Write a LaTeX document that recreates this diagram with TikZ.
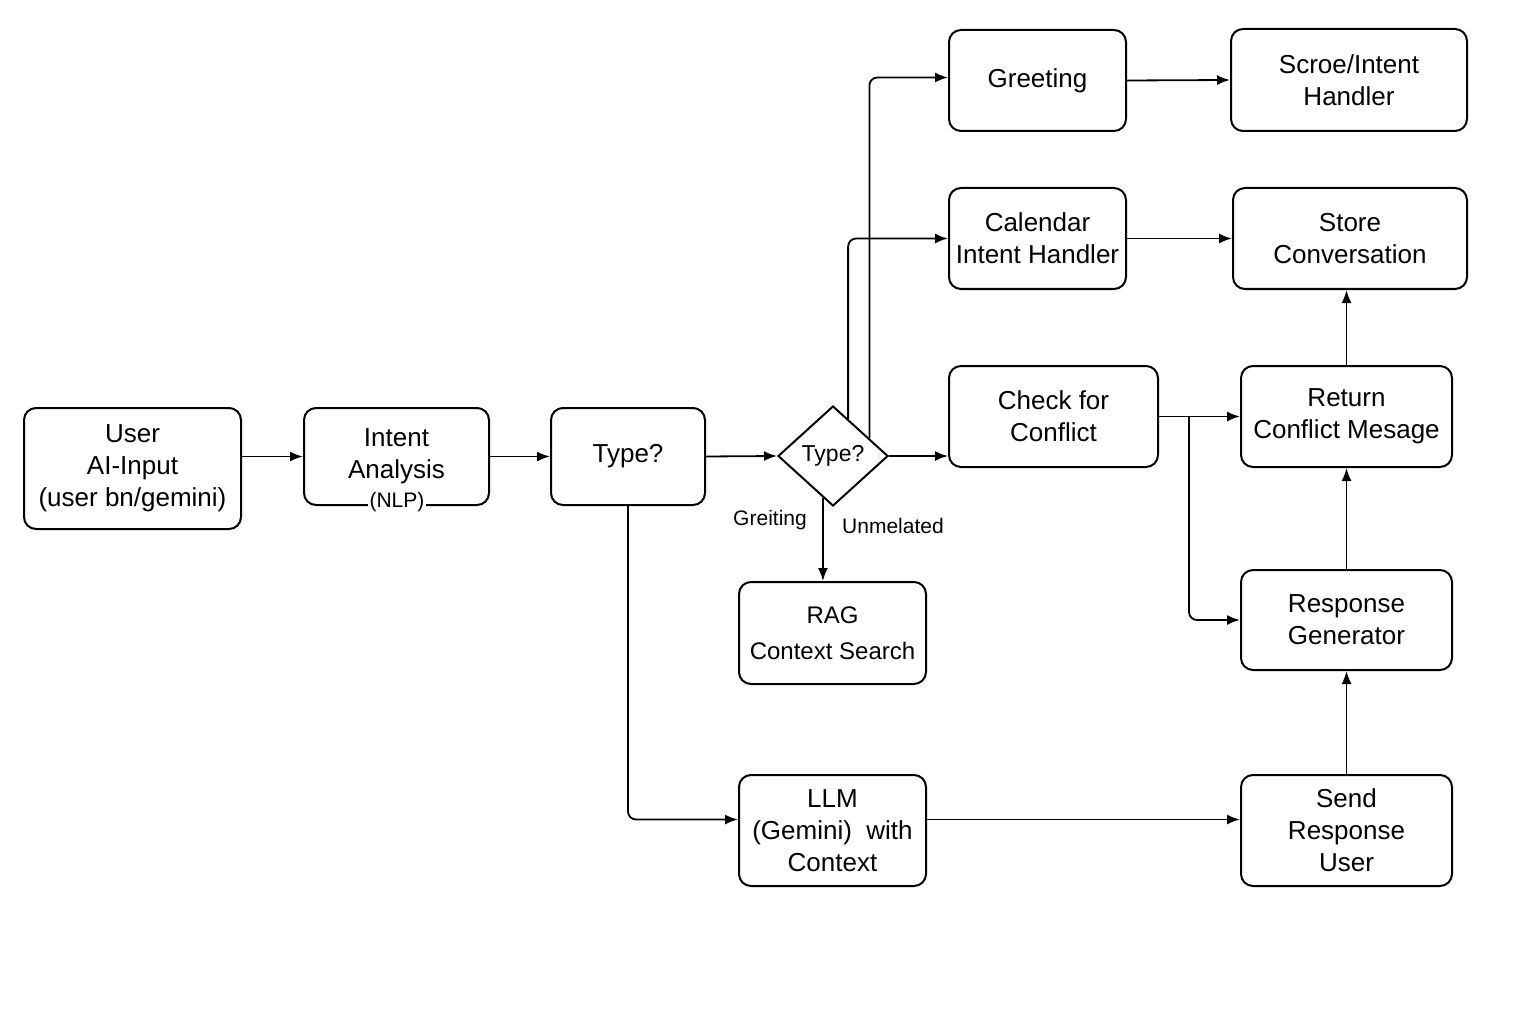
\documentclass[tikz,border=0pt]{standalone}
\usepackage{fontspec}
\setmainfont{Liberation Sans}
\usetikzlibrary{arrows.meta, positioning, shapes.geometric, calc}

\begin{document}
\begin{tikzpicture}[x=1pt, y=-1pt,
    box/.style={draw, line width=2pt, rounded corners=12pt, align=center, inner sep=3pt, font=\fontsize{26}{32}\selectfont},
    arr/.style={-{Latex[length=13pt, width=10pt]}, line width=1.8pt},
    lbl/.style={font=\fontsize{21}{24}\selectfont}]
    \useasboundingbox (0,0) rectangle (1536,1024);

    % Input and analysis
    \node[box, minimum width=217, minimum height=121] (user) at (132.5,468.5) {User\\AI-Input\\(user bn/gemini)};
    \node[box, minimum width=185, minimum height=97] (intent) at (396.5,456.5) {Intent\\Analysis};
    \node[lbl, fill=white, inner sep=2pt] (nlp) at (397,502) {(NLP)};
    \node[box, minimum width=154, minimum height=97] (type1) at (628,456.5) {Type?};
    \node[draw, diamond, line width=2pt, minimum width=110, minimum height=100, inner sep=0pt, font=\fontsize{23}{26}\selectfont] (dia) at (833,456) {Type?};

    % Labels under the decision
    \node[lbl] (greit) at (770,520) {Greiting};
    \node[lbl] (unrel) at (893,526) {Unmelated};

    % Handlers
    \node[box, minimum width=177, minimum height=101] (greeting) at (1037.5,80.5) {Greeting};
    \node[box, minimum width=236, minimum height=102] (score) at (1349,80) {Scroe/Intent\\Handler};
    \node[box, minimum width=177, minimum height=101] (calendar) at (1037.5,238.5) {Calendar\\Intent Handler};
    \node[box, minimum width=234, minimum height=101] (store) at (1350,238.5) {Store\\Conversation};
    \node[box, minimum width=209, minimum height=101] (check) at (1053.5,416.5) {Check for\\Conflict};
    \node[box, minimum width=211, minimum height=101] (return) at (1346.5,416.5) {Return\\Conflict Mesage};

    % Lower part
    \node[box, minimum width=187, minimum height=102, font=\fontsize{24}{36}\selectfont] (rag) at (832.5,633) {RAG\\Context Search};
    \node[box, minimum width=211, minimum height=100] (response) at (1346.5,620) {Response\\Generator};
    \node[box, minimum width=187, minimum height=111] (llm) at (832.5,830.5) {LLM\\(Gemini)\ \ with\\Context};
    \node[box, minimum width=211, minimum height=111] (send) at (1346.5,830.5) {Send\\Response\\User};

    % Main row
    \draw[arr] ([yshift=12pt]user.east) -- ([yshift=12pt]user.east -| intent.west);
    \draw[arr] (intent.east) -- (type1.west);
    \draw[arr] (type1.east) -- (dia.west);
    \draw[arr] (dia.east) -- (dia.east -| check.west);

    % Branches out of the decision
    \coordinate (upgreet) at ($(dia.north)!0.65!(dia.east)$);
    \coordinate (upcal) at ($(dia.north)!0.27!(dia.east)$);
    \coordinate (down) at ($(dia.south)!0.18!(dia.west)$);
    \draw[arr, rounded corners=8pt] (upgreet) |- ([yshift=3pt]greeting.west);
    \draw[arr, rounded corners=8pt] (upcal) |- (calendar.west);
    \draw[arr] (down) -- (down |- rag.north);

    % Right column
    \draw[arr] (greeting.east) -- (score.west);
    \draw[arr] (calendar.east) -- (store.west);
    \draw[arr] (check.east) -- (return.west);
    \coordinate (split) at ($(check.east)+(30,0)$);
    \draw[arr, rounded corners=8pt] (split) |- (response.west);
    \draw[arr] (response.north) -- (return.south);
    \draw[arr] (return.north) -- (return.north |- store.south);
    \draw[arr] (send.north) -- (send.north |- response.south);

    % LLM path
    \draw[arr, rounded corners=8pt] (type1.south) |- ([yshift=11pt]llm.west);
    \draw[arr] ([yshift=11pt]llm.east) -- ([yshift=11pt]llm.east -| send.west);
\end{tikzpicture}
\end{document}
